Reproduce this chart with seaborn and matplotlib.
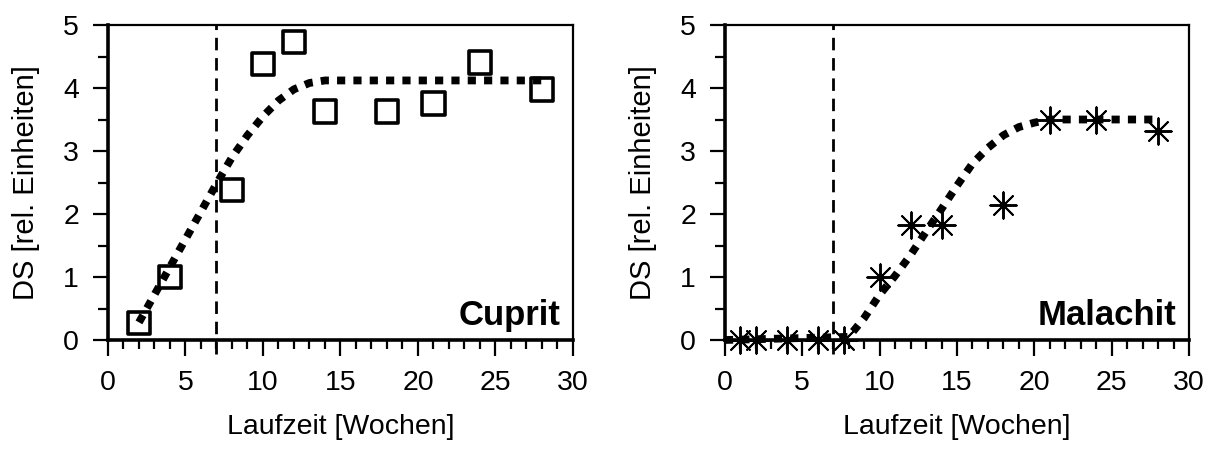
import matplotlib
matplotlib.use("Agg")
import matplotlib.pyplot as plt
from matplotlib.ticker import MultipleLocator
import seaborn as sns

sns.set_style("ticks")
plt.rcParams["font.family"] = ["Liberation Sans", "DejaVu Sans"]
plt.rcParams["text.color"] = "black"
plt.rcParams["axes.labelcolor"] = "black"

# Cuprit: measured values and fitted curve
cuprit_weeks = [2, 4, 8, 10, 12, 14, 18, 21, 24, 28]
cuprit_ds = [0.27, 1.0, 2.38, 4.38, 4.73, 3.63, 3.63, 3.75, 4.4, 3.98]
cuprit_fit_weeks = [2, 3, 4, 5, 6, 7, 8, 9, 10, 11, 12, 13, 14, 18, 22, 28]
cuprit_fit_ds = [0.28, 0.72, 1.16, 1.6, 2.04, 2.48, 2.9, 3.25, 3.55, 3.8,
                 3.98, 4.08, 4.12, 4.12, 4.12, 4.12]

# Malachit: measured values and fitted curve
malachit_weeks = [1, 2, 4, 6, 7.7, 10, 12, 14, 18, 21, 24, 28]
malachit_ds = [0, 0, 0, 0, 0, 1.0, 1.83, 1.83, 2.14, 3.5, 3.5, 3.32]
malachit_fit_weeks = [0, 8, 9, 10, 11, 12, 13, 14, 15, 16, 17, 18, 19, 20, 21, 24, 28]
malachit_fit_ds = [0, 0.05, 0.35, 0.72, 1.02, 1.35, 1.72, 2.08, 2.45, 2.8,
                   3.05, 3.25, 3.38, 3.45, 3.5, 3.5, 3.5]

marker_week = 7
x_label = "Laufzeit [Wochen]"
y_label = "DS [rel. Einheiten]"

fig = plt.figure(figsize=(12.16, 4.54), dpi=100)
ax1 = fig.add_axes([0.0888, 0.2511, 0.3824, 0.6938])
ax2 = fig.add_axes([0.5962, 0.2511, 0.3816, 0.6938])


def panel(ax, weeks, ds, fit_w, fit_ds, name, marker, size, lw, face):
    sns.lineplot(x=fit_w, y=fit_ds, ax=ax, color="black", lw=5.6,
                 linestyle=(0, (1.05, 1.05)), sort=False, estimator=None,
                 clip_on=False, zorder=2)
    sns.scatterplot(x=weeks, y=ds, ax=ax, marker=marker, s=size,
                    facecolor=face, edgecolor="black", linewidth=lw,
                    clip_on=False, zorder=3)
    ax.plot([marker_week, marker_week], [-0.22, 5], color="black", lw=2.0,
            linestyle=(0, (4.5, 2.8)), clip_on=False, zorder=1)
    ax.set_xlim(0, 30)
    ax.set_ylim(0, 5)
    ax.xaxis.set_major_locator(MultipleLocator(5))
    ax.xaxis.set_minor_locator(MultipleLocator(1))
    ax.yaxis.set_major_locator(MultipleLocator(1))
    ax.yaxis.set_minor_locator(MultipleLocator(0.5))
    ax.tick_params(axis="both", which="both", direction="out", width=1.6,
                   color="black", labelsize=20.5, labelcolor="black")
    ax.tick_params(axis="y", which="major", length=10.8, pad=10)
    ax.tick_params(axis="y", which="minor", length=7.2)
    ax.tick_params(axis="x", which="major", length=11.5, pad=10)
    ax.tick_params(axis="x", which="minor", length=6.2)
    for side in ("left", "bottom"):
        ax.spines[side].set_linewidth(2.6)
        ax.spines[side].set_color("black")
    for side in ("top", "right"):
        ax.spines[side].set_visible(True)
        ax.spines[side].set_linewidth(1.6)
        ax.spines[side].set_color("black")
    ax.set_xlabel(x_label, fontsize=20.5, labelpad=13)
    ax.set_ylabel(y_label, fontsize=21, labelpad=17)
    ax.text(0.973, 0.048, name, transform=ax.transAxes, ha="right",
            va="baseline", fontsize=25, fontweight="bold")
    ax.set_facecolor("white")


panel(ax1, cuprit_weeks, cuprit_ds, cuprit_fit_weeks, cuprit_fit_ds,
      "Cuprit", "s", 270, 2.6, "none")
panel(ax2, malachit_weeks, malachit_ds, malachit_fit_weeks, malachit_fit_ds,
      "Malachit", (8, 2, 0), 360, 1.4, "black")

fig.savefig("out.png", dpi=100, facecolor="white")
